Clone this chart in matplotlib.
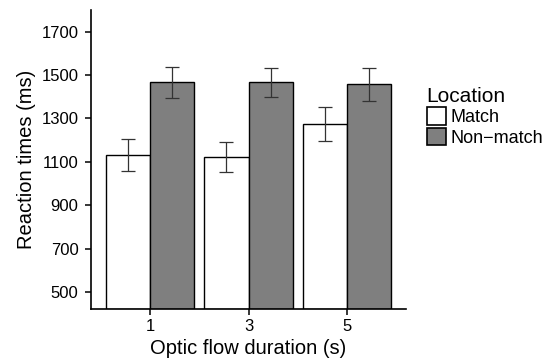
import matplotlib
matplotlib.use("Agg")
import matplotlib.pyplot as plt
import numpy as np
from matplotlib.patches import Patch

# Mean reaction times and error bar half-widths per optic flow duration
durations = ["1", "3", "5"]
match_rt = [1132, 1121, 1275]
match_err = [75, 68, 78]
nonmatch_rt = [1466, 1466, 1457]
nonmatch_err = [72, 66, 75]

plt.rcParams['font.family'] = ['Liberation Sans', 'DejaVu Sans']

fig = plt.figure(figsize=(5.58, 3.6), dpi=100)
ax = fig.add_axes([91 / 558, 51 / 360, 315 / 558, 299 / 360])

x = np.arange(len(durations))
width = 0.45
ymin = 421

ax.bar(x - width / 2, np.array(match_rt) - ymin, width, bottom=ymin,
       color="white", edgecolor="black", linewidth=1.0, align="center")
ax.bar(x + width / 2, np.array(nonmatch_rt) - ymin, width, bottom=ymin,
       color="#7f7f7f", edgecolor="black", linewidth=1.0, align="center")

ax.errorbar(x - width / 2, match_rt, yerr=match_err, fmt="none",
            ecolor="#333333", elinewidth=0.9, capsize=5, capthick=0.9)
ax.errorbar(x + width / 2, nonmatch_rt, yerr=nonmatch_err, fmt="none",
            ecolor="#333333", elinewidth=0.9, capsize=5, capthick=0.9)

ax.set_xlim(-0.6, len(durations) - 1 + 0.6)
ax.set_ylim(ymin, 1800)
ax.set_xticks(x)
ax.set_xticklabels(durations)
ax.set_yticks([500, 700, 900, 1100, 1300, 1500, 1700])

for side in ["top", "right"]:
    ax.spines[side].set_visible(False)
for side in ["left", "bottom"]:
    ax.spines[side].set_linewidth(1.2)
    ax.spines[side].set_color("black")

ax.tick_params(axis="both", colors="black", labelsize=12, length=4,
               width=1.1)
ax.tick_params(axis="y", pad=5)
ax.tick_params(axis="x", pad=3)

ax.set_xlabel("Optic flow duration (s)", fontsize=14.5, labelpad=4)
ax.set_ylabel("Reaction times (ms)", fontsize=14.5, labelpad=4)

handles = [Patch(facecolor="white", edgecolor="black", linewidth=1.2, label="Match"),
           Patch(facecolor="#7f7f7f", edgecolor="black", linewidth=1.2, label="Non\u2212match")]
leg = fig.legend(handles=handles, title="Location", loc="upper left",
                 bbox_to_anchor=(414 / 558, 1 - 74 / 360), frameon=False,
                 fontsize=13, title_fontsize=15, handlelength=1.1,
                 handleheight=1.1, handletextpad=0.2, labelspacing=0.1,
                 borderpad=0.2)
leg._legend_box.align = "left"

fig.savefig("out.png", dpi=100)
